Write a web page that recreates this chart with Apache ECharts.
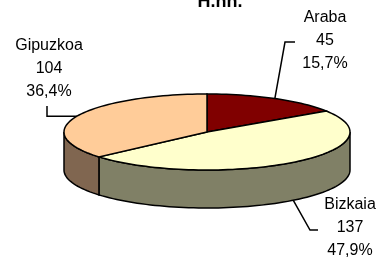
<!DOCTYPE html>
<html>
<head>
<meta charset="utf-8">
<script src="https://cdn.jsdelivr.net/npm/echarts@6/dist/echarts.min.js"></script>
<style>html,body{margin:0;padding:0;background:#fff}#chart{width:383px;height:259px}</style>
</head>
<body>
<div id="chart"></div>
<script>
var regions = ['Araba', 'Bizkaia', 'Gipuzkoa'];
var counts = [45, 137, 104];
var shares = ['15,7%', '47,9%', '36,4%'];
var topColors = ['#800000', '#FFFFCC', '#FFCC99'];
var sideColors = ['#400000', '#808066', '#806650'];

// layout of the flattened pie
var cx = 207, cy = 132, rx = 143, ry = 38, depth = 38;
var total = counts.reduce(function (a, b) { return a + b; }, 0);
var acc = 0;
var angles = counts.map(function (v) {
    var a0 = 90 - acc / total * 360;
    acc += v;
    return [a0, 90 - acc / total * 360];
});
function pt(a, dy) {
    var r = a * Math.PI / 180;
    return [cx + rx * Math.cos(r), cy - ry * Math.sin(r) + (dy || 0)];
}
function arc(a0, a1, dy) {
    var pts = [], n = Math.max(2, Math.ceil(Math.abs(a0 - a1) / 2));
    for (var k = 0; k <= n; k++) pts.push(pt(a0 + (a1 - a0) * k / n, dy));
    return pts;
}
// label placement: [label x, middle line y, leader bend points]
var labelPos = [
    { x: 325, y: 41, leader: function (p) { return [p, [285, 42], [295, 42]]; } },
    { x: 350, y: 228, leader: function (p) { return [[p[0], p[1] + depth], [310, 230], [318, 230]]; } },
    { x: 49, y: 69, leader: function (p) { return [p, [47, p[1]], [47, 106]]; } }
];
var lineStyle = { fill: null, stroke: '#000', lineWidth: 1.5 };

option = {
    backgroundColor: '#fff',
    animation: false,
    title: {
        text: 'H.hh.',
        left: 215,
        top: -12,
        textAlign: 'center',
        textStyle: { fontFamily: 'Liberation Sans', fontSize: 18, fontWeight: 'bold', color: '#000' }
    },
    series: [
        {
            type: 'custom',
            name: 'sides',
            coordinateSystem: 'none',
            data: regions,
            z: 1,
            renderItem: function (params, api) {
                var i = params.dataIndex;
                var a = angles[i];
                var lo = Math.max(a[1], -180), hi = Math.min(a[0], 0);
                if (lo >= hi) return { type: 'group', children: [] };
                var pts = arc(hi, lo, 0).concat(arc(lo, hi, depth));
                return {
                    type: 'polygon',
                    shape: { points: pts },
                    style: { fill: sideColors[i], stroke: '#000', lineWidth: 1.5 }
                };
            }
        },
        {
            type: 'custom',
            name: 'tops',
            coordinateSystem: 'none',
            data: regions,
            z: 2,
            renderItem: function (params, api) {
                var i = params.dataIndex;
                var a = angles[i];
                var pts = [[cx, cy]].concat(arc(a[0], a[1], 0));
                var mid = pt((a[0] + a[1]) / 2, 0);
                var lp = labelPos[i];
                return {
                    type: 'group',
                    children: [
                        {
                            type: 'polygon',
                            shape: { points: pts },
                            style: { fill: topColors[i], stroke: '#000', lineWidth: 1.5 }
                        },
                        {
                            type: 'polyline',
                            shape: { points: lp.leader(mid) },
                            style: lineStyle
                        },
                        {
                            type: 'text',
                            style: {
                                text: regions[i] + '\n' + counts[i] + '\n' + shares[i],
                                x: lp.x,
                                y: lp.y,
                                align: 'center',
                                verticalAlign: 'middle',
                                lineHeight: 23,
                                fontFamily: 'Liberation Sans',
                                fontSize: 16,
                                fill: '#000'
                            }
                        }
                    ]
                };
            }
        }
    ]
};
var myChart = echarts.init(document.getElementById('chart'));
myChart.setOption(option, true);
</script>
</body>
</html>
